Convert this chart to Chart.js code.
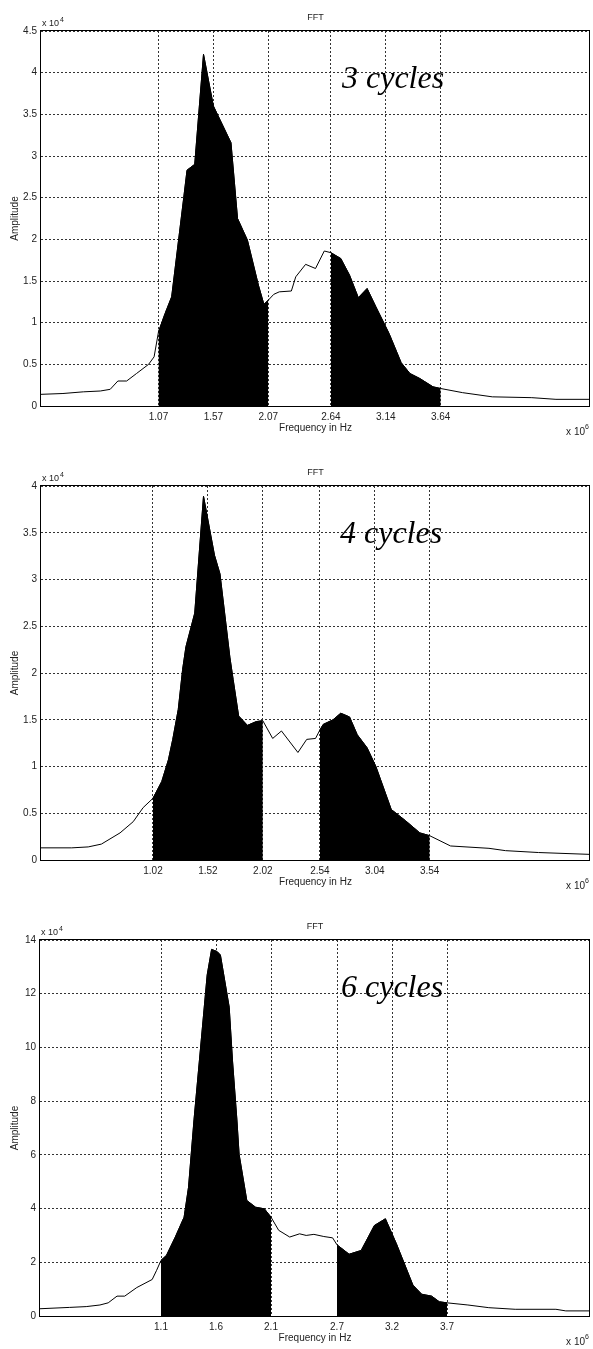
<!DOCTYPE html>
<html>
<head>
<meta charset="utf-8">
<script src="https://cdn.jsdelivr.net/npm/chart.js@4.4.0/dist/chart.umd.min.js"></script>
<style>
body { margin: 0; background: #fff; }
canvas { position: absolute; left: 0; }
</style>
</head>
<body>
<canvas id="fft3" width="593" height="440" style="top:0px"></canvas>
<canvas id="fft4" width="593" height="460" style="top:440px"></canvas>
<canvas id="fft6" width="593" height="449" style="top:900px"></canvas>
<script>
// frequency in x10^6 Hz, amplitude in x10^4
var freq3 = [0, 0.2, 0.385, 0.54, 0.63, 0.70, 0.78, 0.87, 0.98, 1.03, 1.07, 1.13, 1.19, 1.30, 1.33, 1.40, 1.48, 1.57, 1.73, 1.79, 1.88, 1.98, 2.03, 2.07, 2.12, 2.17, 2.28, 2.32, 2.41, 2.50, 2.58, 2.64, 2.73, 2.81, 2.89, 2.97, 3.05, 3.17, 3.28, 3.36, 3.45, 3.57, 3.64, 3.84, 4.11, 4.47, 4.69, 5.0];
var amp3 = [0.14, 0.15, 0.17, 0.18, 0.20, 0.30, 0.30, 0.39, 0.50, 0.59, 0.89, 1.11, 1.31, 2.5, 2.83, 2.90, 4.22, 3.6, 3.16, 2.25, 1.99, 1.45, 1.22, 1.27, 1.34, 1.37, 1.38, 1.55, 1.70, 1.65, 1.86, 1.84, 1.77, 1.57, 1.30, 1.41, 1.19, 0.87, 0.52, 0.39, 0.33, 0.23, 0.21, 0.16, 0.11, 0.10, 0.08, 0.08];
var ticks3 = [1.07, 1.57, 2.07, 2.64, 3.14, 3.64];
var bands3 = [[1.07, 2.07], [2.64, 3.64]];

var freq4 = [0, 0.28, 0.43, 0.55, 0.72, 0.84, 0.93, 1.02, 1.10, 1.16, 1.20, 1.25, 1.29, 1.32, 1.40, 1.48, 1.58, 1.63, 1.72, 1.75, 1.80, 1.88, 1.96, 2.02, 2.11, 2.19, 2.34, 2.42, 2.50, 2.54, 2.57, 2.66, 2.73, 2.81, 2.88, 2.97, 3.05, 3.19, 3.32, 3.45, 3.54, 3.73, 4.08, 4.23, 4.53, 5.0];
var amp4 = [0.13, 0.13, 0.14, 0.17, 0.29, 0.41, 0.56, 0.66, 0.84, 1.07, 1.29, 1.61, 2.04, 2.28, 2.64, 3.89, 3.26, 3.06, 2.17, 1.93, 1.54, 1.44, 1.48, 1.49, 1.30, 1.38, 1.15, 1.29, 1.30, 1.39, 1.45, 1.50, 1.57, 1.53, 1.34, 1.20, 1.00, 0.54, 0.42, 0.29, 0.26, 0.15, 0.125, 0.10, 0.08, 0.06];
var ticks4 = [1.02, 1.52, 2.02, 2.54, 3.04, 3.54];
var bands4 = [[1.02, 2.02], [2.54, 3.54]];

var freq6 = [0, 0.27, 0.42, 0.545, 0.62, 0.70, 0.77, 0.88, 1.02, 1.06, 1.10, 1.15, 1.23, 1.31, 1.35, 1.40, 1.46, 1.52, 1.56, 1.61, 1.64, 1.72, 1.75, 1.79, 1.81, 1.88, 1.96, 2.04, 2.10, 2.17, 2.27, 2.36, 2.42, 2.49, 2.58, 2.66, 2.70, 2.81, 2.92, 3.04, 3.14, 3.24, 3.39, 3.47, 3.56, 3.63, 3.70, 3.89, 4.08, 4.32, 4.69, 4.78, 5.0];
var amp6 = [0.27, 0.32, 0.35, 0.41, 0.49, 0.74, 0.74, 1.06, 1.36, 1.70, 2.07, 2.26, 2.94, 3.68, 4.79, 7.3, 10.0, 12.7, 13.65, 13.57, 13.44, 11.5, 9.5, 7.3, 6.02, 4.30, 4.05, 3.99, 3.68, 3.19, 2.94, 3.06, 3.0, 3.04, 2.96, 2.91, 2.65, 2.30, 2.44, 3.37, 3.62, 2.69, 1.15, 0.81, 0.74, 0.53, 0.49, 0.41, 0.31, 0.25, 0.25, 0.19, 0.19];
var ticks6 = [1.1, 1.6, 2.1, 2.7, 3.2, 3.7];
var bands6 = [[1.1, 2.1], [2.7, 3.7]];

var sans = '"Liberation Sans", Arial, sans-serif';

// axes box, titles and the "n cycles" note
var decor = {
  id: 'decor',
  afterDraw: function (chart) {
    var o = chart.options.plugins.decor;
    var a = chart.chartArea, c = chart.ctx;
    var midX = (a.left + a.right) / 2;
    c.save();
    c.strokeStyle = '#000';
    c.lineWidth = 1;
    c.strokeRect(Math.round(a.left) - 0.5, Math.round(a.top) - 0.5, Math.round(a.right - a.left), Math.round(a.bottom - a.top) + 1);

    c.fillStyle = '#222';
    c.font = '9px ' + sans;
    c.textAlign = 'center';
    c.textBaseline = 'middle';
    c.fillText('FFT', midX, a.top - 13);

    c.textAlign = 'left';
    c.fillText('x 10', a.left + 1, a.top - 7);
    c.font = '7px ' + sans;
    c.fillText('4', a.left + 19, a.top - 11);

    c.font = '10px ' + sans;
    c.textAlign = 'center';
    c.fillText('Frequency in Hz', midX, a.bottom + 22);

    c.textAlign = 'right';
    c.fillText('x 10', a.right - 5, a.bottom + 26);
    c.font = '7px ' + sans;
    c.textAlign = 'left';
    c.fillText('6', a.right - 5, a.bottom + 21);

    c.font = '10px ' + sans;
    c.textAlign = 'center';
    c.translate(15, (a.top + a.bottom) / 2);
    c.rotate(-Math.PI / 2);
    c.fillText('Amplitude', 0, 0);
    c.restore();

    c.save();
    c.fillStyle = '#000';
    c.font = 'italic 32px "Liberation Serif", "Times New Roman", serif';
    c.textAlign = 'left';
    c.textBaseline = 'alphabetic';
    c.fillText(o.note, o.noteX, a.top + 57);
    c.restore();
  }
};

function fftChart(id, freq, amp, tickVals, bands, yMax, yStep, plotLeft, plotTop, plotBottom, note, noteX) {
  var canvas = document.getElementById(id);
  var H = canvas.height;
  var pts = freq.map(function (f, i) { return { x: f, y: amp[i] }; });
  var datasets = bands.map(function (b) {
    return {
      data: pts.filter(function (p) { return p.x >= b[0] && p.x <= b[1]; }),
      borderColor: '#000', borderWidth: 1, backgroundColor: '#000',
      fill: 'origin', pointRadius: 0, tension: 0
    };
  });
  datasets.push({ data: pts, borderColor: '#000', borderWidth: 1, fill: false, pointRadius: 0, tension: 0 });

  return new Chart(canvas, {
    type: 'line',
    data: { datasets: datasets },
    plugins: [decor],
    options: {
      responsive: false,
      animation: false,
      layout: { padding: { top: plotTop, right: 3, left: 0, bottom: 0 } },
      plugins: {
        legend: { display: false },
        tooltip: { enabled: false },
        decor: { note: note, noteX: noteX }
      },
      scales: {
        x: {
          type: 'linear', min: 0, max: 5,
          afterBuildTicks: function (s) { s.ticks = tickVals.map(function (v) { return { value: v }; }); },
          afterFit: function (s) { s.height = H - plotBottom; },
          ticks: {
            autoSkip: false, maxRotation: 0, padding: 5, color: '#222',
            font: { size: 10, family: sans },
            callback: function (v) { return String(v); }
          },
          grid: { color: '#333', lineWidth: 1, drawTicks: false },
          border: { display: false, dash: [2, 2] }
        },
        y: {
          min: 0, max: yMax,
          afterFit: function (s) { s.width = plotLeft; },
          ticks: {
            stepSize: yStep, padding: 4, color: '#222', font: { size: 10, family: sans },
            callback: function (v) { return String(+v.toFixed(2)); }
          },
          grid: { color: '#333', lineWidth: 1, drawTicks: false },
          border: { display: false, dash: [2, 2] }
        }
      }
    }
  });
}

fftChart('fft3', freq3, amp3, ticks3, bands3, 4.5, 0.5, 41, 31, 406, '3 cycles', 342);
fftChart('fft4', freq4, amp4, ticks4, bands4, 4, 0.5, 41, 46, 420, '4 cycles', 340);
fftChart('fft6', freq6, amp6, ticks6, bands6, 14, 2, 40, 40, 416, '6 cycles', 341);
</script>
</body>
</html>
